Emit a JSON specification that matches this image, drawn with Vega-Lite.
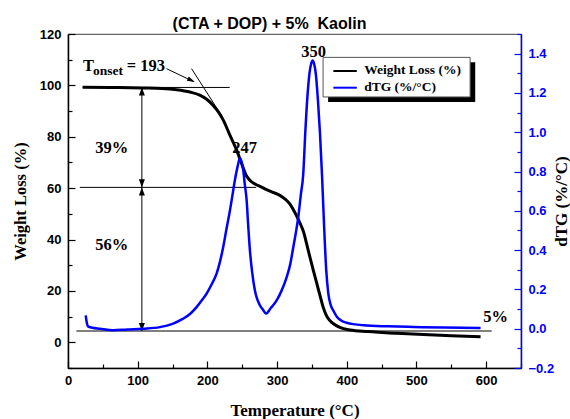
{
  "$schema": "https://vega.github.io/schema/vega-lite/v6.json",
  "width": 453,
  "height": 334,
  "autosize": "none",
  "padding": {"left": 68, "top": 34, "right": 49, "bottom": 51},
  "background": "white",
  "title": {"text": "(CTA + DOP) + 5%\u00a0 Kaolin", "font": "Liberation Sans", "fontSize": 16, "fontWeight": "bold", "color": "black", "anchor": "middle", "dx": -25, "dy": 24, "offset": 7, "baseline": "alphabetic"},
  "config": {"view": {"stroke": "#666", "strokeWidth": 1.2}},
  "datasets": {
    "weight": [
      {"T":21,"W":99.3},{"T":60,"W":99.2},{"T":107,"W":99.0},{"T":135,"W":98.8},{"T":156,"W":98.3},{"T":175,"W":97.4},{"T":189,"W":96.2},{"T":199,"W":94.6},{"T":208,"W":92.3},{"T":216,"W":89.6},{"T":223,"W":86.4},{"T":232,"W":80.8},{"T":242,"W":74.8},{"T":249,"W":69.6},{"T":256,"W":64.8},{"T":262,"W":62.8},{"T":269,"W":61.5},{"T":277,"W":60.5},{"T":285,"W":59.4},{"T":295,"W":58.3},{"T":304,"W":57.2},{"T":312,"W":55.6},{"T":318,"W":54},{"T":323,"W":51.8},{"T":328,"W":49.2},{"T":333,"W":46.3},{"T":338,"W":43},{"T":342,"W":38.8},{"T":347,"W":33.3},{"T":352,"W":28},{"T":357,"W":22.9},{"T":362,"W":17.8},{"T":366,"W":13.8},{"T":371,"W":10.3},{"T":376,"W":8.4},{"T":381,"W":7.2},{"T":390,"W":5.8},{"T":405,"W":4.8},{"T":430,"W":4.2},{"T":472,"W":3.5},{"T":510,"W":3.0},{"T":550,"W":2.6},{"T":592,"W":2.2}
    ],
    "dtg": [
      {"T":25.4,"D":0.068},{"T":27,"D":0.03},{"T":28.7,"D":0.012},{"T":35,"D":0.005},{"T":45.5,"D":0.0},{"T":64.7,"D":-0.008},{"T":85,"D":-0.004},{"T":107.8,"D":0.0},{"T":131.8,"D":0.008},{"T":150,"D":0.025},{"T":165.2,"D":0.051},{"T":175,"D":0.075},{"T":184.5,"D":0.11},{"T":191,"D":0.14},{"T":198.9,"D":0.179},{"T":206,"D":0.225},{"T":213.2,"D":0.28},{"T":218,"D":0.34},{"T":222.7,"D":0.416},{"T":227,"D":0.5},{"T":232.3,"D":0.6},{"T":236,"D":0.68},{"T":239.5,"D":0.757},{"T":243,"D":0.82},{"T":246.7,"D":0.867},{"T":249,"D":0.85},{"T":251.4,"D":0.81},{"T":253.5,"D":0.74},{"T":256.3,"D":0.655},{"T":258.5,"D":0.53},{"T":261,"D":0.4},{"T":264.5,"D":0.28},{"T":268.2,"D":0.195},{"T":271.5,"D":0.15},{"T":275.4,"D":0.119},{"T":280,"D":0.095},{"T":284,"D":0.077},{"T":291,"D":0.105},{"T":299.4,"D":0.144},{"T":306,"D":0.19},{"T":313.8,"D":0.263},{"T":319,"D":0.33},{"T":323.3,"D":0.416},{"T":327,"D":0.49},{"T":330.5,"D":0.57},{"T":334,"D":0.68},{"T":337.6,"D":0.79},{"T":340.5,"D":1.0},{"T":343.5,"D":1.18},{"T":346.5,"D":1.3},{"T":349,"D":1.35},{"T":351,"D":1.365},{"T":353,"D":1.35},{"T":355.5,"D":1.3},{"T":358.5,"D":1.17},{"T":361.5,"D":1.0},{"T":364.5,"D":0.78},{"T":367.5,"D":0.52},{"T":370.5,"D":0.3},{"T":373.5,"D":0.18},{"T":377,"D":0.12},{"T":381,"D":0.09},{"T":386,"D":0.06},{"T":392,"D":0.042},{"T":400,"D":0.03},{"T":412,"D":0.022},{"T":424,"D":0.017},{"T":460,"D":0.012},{"T":496,"D":0.009},{"T":540,"D":0.006},{"T":592,"D":0.004}
    ],
    "segments": [
      {"T":177.3,"W":106.5,"T2":220,"W2":88.4},
      {"T":141.4,"W":106.5,"T2":180,"W2":101.5},
      {"T":21,"W":99.2,"T2":232,"W2":99.2},
      {"T":106,"W":99.2,"T2":106,"W2":4.4},
      {"T":17,"W":60.3,"T2":270,"W2":60.3},
      {"T":12,"W":4.4,"T2":608,"W2":4.4}
    ],
    "heads": [
      {"T":106,"W":99.2,"dir":"up"},
      {"T":106,"W":60.3,"dir":"down"},
      {"T":106,"W":60.3,"dir":"up"},
      {"T":106,"W":4.4,"dir":"down"},
      {"T":182,"W":101.3,"dir":"diag"}
    ],
    "notes": [
      {"T":62.8,"W":73.6,"label":"39%"},
      {"T":62.8,"W":35.9,"label":"56%"},
      {"T":253.4,"W":73.7,"label":"247"},
      {"T":352.3,"W":110.9,"label":"350"},
      {"T":613.5,"W":8.0,"label":"5%"}
    ],
    "onset": [
      {"T":21.6,"W":105.6,"label":"T"},
      {"T":84.3,"W":105.6,"label":"= 193"}
    ],
    "onsetSub": [
      {"T":35.9,"W":104.1,"label":"onset"}
    ],
    "legendShadow": [{"T":373.2,"T2":584.3,"W":109,"W2":93.5}],
    "legendBox": [{"T":366,"T2":577,"W":110.9,"W2":95.5}],
    "legendLines": [
      {"series":"Weight Loss (%)","T":380.8,"T2":414.4,"W":105.6,"W2":105.6},
      {"series":"dTG (%/°C)","T":380.8,"T2":414.4,"W":99.1,"W2":99.1}
    ],
    "legendText": [
      {"series":"Weight Loss (%)","T":425,"W":104.3},
      {"series":"dTG (%/°C)","T":425,"W":97.8}
    ]
  },
  "encoding": {
    "x": {
      "field": "T", "type": "quantitative",
      "scale": {"domain": [0, 650], "nice": false, "zero": false},
      "axis": {
        "title": "Temperature (°C)", "titleFont": "Liberation Serif", "titleFontSize": 17, "titleFontWeight": "bold", "titleColor": "black", "titlePadding": 12,
        "labelFont": "Liberation Sans", "labelFontSize": 13, "labelFontWeight": "bold", "labelColor": "black",
        "values": [0,50,100,150,200,250,300,350,400,450,500,550,600,650],
        "labelExpr": "datum.value % 100 === 0 && datum.value <= 600 ? datum.label : ''",
        "tickSize": {"condition": {"test": "datum.value % 100 === 0", "value": -7}, "value": -4},
        "labelPadding": 13, "labelFlush": false, "labelOverlap": false,
        "domainColor": "black", "domainWidth": 1.5, "tickColor": "black", "tickWidth": 1.2, "grid": false
      }
    }
  },
  "layer": [
    {
      "encoding": {
        "y": {
          "field": "W", "type": "quantitative",
          "scale": {"domain": [-10, 120], "nice": false, "zero": false},
          "axis": {
            "orient": "left",
            "title": "Weight Loss (%)", "titleFont": "Liberation Serif", "titleFontSize": 16.5, "titleFontWeight": "bold", "titleColor": "black", "titlePadding": 11,
            "labelFont": "Liberation Sans", "labelFontSize": 13, "labelFontWeight": "bold", "labelColor": "black",
            "values": [-10,0,10,20,30,40,50,60,70,80,90,100,110,120],
            "labelExpr": "datum.value % 20 === 0 && datum.value >= 0 ? datum.label : ''",
            "tickSize": {"condition": {"test": "datum.value % 20 === 0", "value": -7}, "value": -4},
            "labelPadding": 14, "labelFlush": false, "labelOverlap": false,
            "domainColor": "black", "domainWidth": 1.5, "tickColor": "black", "tickWidth": 1.2, "grid": false
          }
        }
      },
      "layer": [
        {"data": {"name": "segments"}, "mark": {"type": "rule", "color": "black", "strokeWidth": 1}, "encoding": {"x2": {"field": "T2"}, "y2": {"field": "W2"}}},
        {"data": {"name": "heads"}, "mark": {"type": "point", "filled": true, "color": "black", "size": 36, "opacity": 1, "strokeWidth": 0},
          "encoding": {"shape": {"field": "dir", "type": "nominal", "scale": {"domain": ["up","down","diag"], "range": ["M0,0L-1,2.7L1,2.7Z", "M0,0L-1,-2.7L1,-2.7Z", "M0,0L-2.69,-0.39L-2.01,-1.84Z"]}, "legend": null}}},
        {"data": {"name": "weight"}, "mark": {"type": "line", "color": "black", "strokeWidth": 3, "strokeJoin": "round", "interpolate": "monotone"}},
        {"data": {"name": "notes"}, "mark": {"type": "text", "font": "Liberation Serif", "fontSize": 16.5, "fontWeight": "bold", "align": "center", "baseline": "alphabetic", "color": "black"}, "encoding": {"text": {"field": "label"}}},
        {"data": {"name": "onset"}, "mark": {"type": "text", "font": "Liberation Serif", "fontSize": 16.5, "fontWeight": "bold", "align": "left", "baseline": "alphabetic", "color": "black"}, "encoding": {"text": {"field": "label"}}},
        {"data": {"name": "onsetSub"}, "mark": {"type": "text", "font": "Liberation Serif", "fontSize": 13.5, "fontWeight": "bold", "align": "left", "baseline": "alphabetic", "color": "black"}, "encoding": {"text": {"field": "label"}}},
        {"data": {"name": "legendShadow"}, "mark": {"type": "rect", "color": "black"}, "encoding": {"x2": {"field": "T2"}, "y2": {"field": "W2"}}},
        {"data": {"name": "legendBox"}, "mark": {"type": "rect", "fill": "white", "stroke": "#555", "strokeWidth": 1}, "encoding": {"x2": {"field": "T2"}, "y2": {"field": "W2"}}},
        {"data": {"name": "legendLines"}, "mark": {"type": "rule", "strokeWidth": 2},
          "encoding": {"x2": {"field": "T2"}, "y2": {"field": "W2"}, "color": {"field": "series", "type": "nominal", "scale": {"domain": ["Weight Loss (%)", "dTG (%/°C)"], "range": ["black", "#0000ff"]}, "legend": null}}},
        {"data": {"name": "legendText"}, "mark": {"type": "text", "font": "Liberation Serif", "fontSize": 13.5, "fontWeight": "bold", "align": "left", "baseline": "alphabetic", "color": "black"}, "encoding": {"text": {"field": "series"}}}
      ]
    },
    {
      "data": {"name": "dtg"},
      "mark": {"type": "line", "color": "#0000ff", "strokeWidth": 2.5, "strokeJoin": "round", "interpolate": "monotone"},
      "encoding": {
        "y": {
          "field": "D", "type": "quantitative",
          "scale": {"domain": [-0.2, 1.5], "nice": false, "zero": false},
          "axis": {
            "orient": "right",
            "title": "dTG (%/°C)", "titleFont": "Liberation Serif", "titleFontSize": 17, "titleFontWeight": "bold", "titleColor": "black", "titlePadding": 0, "titleAngle": 270, "titleBaseline": "top",
            "labelFont": "Liberation Sans", "labelFontSize": 13, "labelFontWeight": "bold", "labelColor": "#0000ff",
            "values": [-0.2,-0.1,0,0.1,0.2,0.3,0.4,0.5,0.6,0.7,0.8,0.9,1.0,1.1,1.2,1.3,1.4,1.5],
            "format": ".1f",
            "labelExpr": "round(datum.value * 10) % 2 === 0 && datum.value < 1.45 ? datum.label : ''",
            "tickSize": {"condition": {"test": "round(datum.value * 10) % 2 === 0", "value": -7}, "value": -4},
            "labelPadding": 14, "labelFlush": false, "labelOverlap": false,
            "domainColor": "#0000ff", "domainWidth": 1.5, "tickColor": "#0000ff", "tickWidth": 1.2, "grid": false
          }
        }
      }
    }
  ],
  "resolve": {"scale": {"y": "independent"}, "axis": {"y": "independent"}}
}
